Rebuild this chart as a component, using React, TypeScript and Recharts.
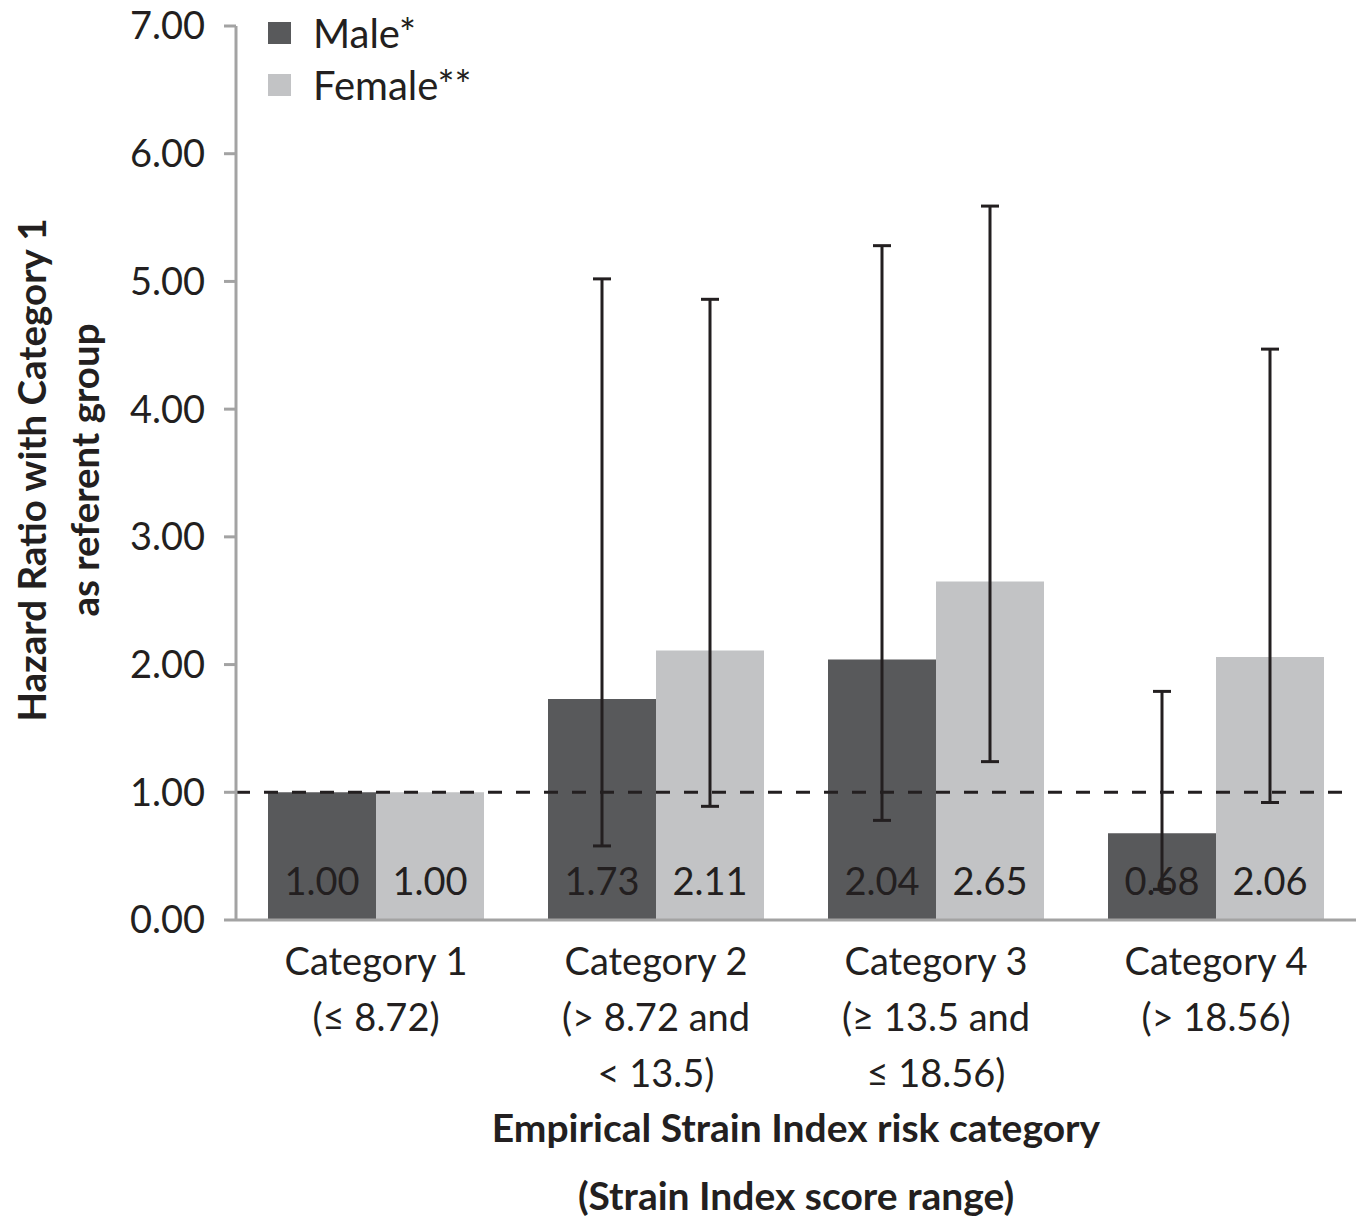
import { BarChart, Bar, XAxis, YAxis, ReferenceLine, ErrorBar, LabelList } from "recharts"

const categories = ["Category 1", "Category 2", "Category 3", "Category 4"]
const scoreRanges = [["(≤ 8.72)"], ["(> 8.72 and", "< 13.5)"], ["(≥ 13.5 and", "≤ 18.56)"], ["(> 18.56)"]]

const maleHR = [1.0, 1.73, 2.04, 0.68]
const maleLow = [null, 0.58, 0.78, 0.24]
const maleHigh = [null, 5.02, 5.28, 1.79]

const femaleHR = [1.0, 2.11, 2.65, 2.06]
const femaleLow = [null, 0.89, 1.24, 0.92]
const femaleHigh = [null, 4.86, 5.59, 4.47]

const yTicks = [0, 1, 2, 3, 4, 5, 6, 7]

const MALE = "#58595b"
const FEMALE = "#c2c3c5"
const INK = "#231f20"
const AXIS = "#a3a3a3"
const FONT = "Lato, sans-serif"

const errOf = (v: number, lo: number | null, hi: number | null) =>
  lo == null || hi == null ? null : [+(v - lo).toFixed(2), +(hi - v).toFixed(2)]

const data = categories.map((name, i) => ({
  name,
  male: maleHR[i],
  female: femaleHR[i],
  maleErr: errOf(maleHR[i], maleLow[i], maleHigh[i]),
  femaleErr: errOf(femaleHR[i], femaleLow[i], femaleHigh[i]),
}))

function CategoryTick(props: any) {
  const { x, y, payload } = props
  const i = categories.indexOf(payload.value)
  const lines = [payload.value, ...scoreRanges[i]]
  return (
    <g>
      {lines.map((t, k) => (
        <text key={k} x={x} y={y + 53 + k * 56} textAnchor="middle" fill={INK} fontSize={38} fontFamily={FONT}>
          {t}
        </text>
      ))}
    </g>
  )
}

function ValueLabel(props: any) {
  const vb = props.viewBox ?? props
  const x = typeof props.x === "number" ? props.x : vb.x
  const y = typeof props.y === "number" ? props.y : vb.y
  const w = typeof props.width === "number" ? props.width : vb.width
  const h = typeof props.height === "number" ? props.height : vb.height
  return (
    <text x={x + w / 2} y={y + h - 25} textAnchor="middle" fill={INK} fontSize={38} fontFamily={FONT}>
      {Number(props.value).toFixed(2)}
    </text>
  )
}

function YTitle() {
  return (
    <g fontFamily={FONT} fontWeight="bold" fontSize={38.5} fill={INK}>
      <text x={46} y={470} textAnchor="middle" transform="rotate(-90 46 470)">
        Hazard Ratio with Category 1
      </text>
      <text x={99} y={470} textAnchor="middle" transform="rotate(-90 99 470)">
        as referent group
      </text>
    </g>
  )
}

function XTitle(props: any) {
  const { x, width } = props.viewBox
  const cx = x + width / 2
  return (
    <g fontFamily={FONT} fontWeight="bold" fontSize={39} fill={INK}>
      <text x={cx} y={1142} textAnchor="middle">
        Empirical Strain Index risk category
      </text>
      <text x={cx} y={1210} textAnchor="middle">
        (Strain Index score range)
      </text>
    </g>
  )
}

const legendItems = [
  { label: "Male*", color: MALE },
  { label: "Female**", color: FEMALE },
]

function LegendBox() {
  return (
    <div style={{ position: "absolute", left: 268, top: 7, fontFamily: FONT, fontSize: 40, color: INK, lineHeight: 1 }}>
      {legendItems.map((it) => (
        <div key={it.label} style={{ display: "flex", alignItems: "center", height: 52 }}>
          <span style={{ width: 23, height: 22, background: it.color, marginRight: 22, display: "inline-block" }} />
          <span>{it.label}</span>
        </div>
      ))}
    </div>
  )
}

export default function App() {
  return (
    <div style={{ position: "absolute", left: 0, top: 0, width: 1360, height: 1220, background: "#fff" }}>
      <BarChart
        width={1360}
        height={1220}
        data={data}
        margin={{ top: 26, right: 4, left: 0, bottom: 0 }}
        barGap={0}
        barCategoryGap={32}
        style={{ fontFamily: FONT }}
      >
        <XAxis
          dataKey="name"
          height={300}
          tickLine={false}
          tickSize={0}
          axisLine={{ stroke: AXIS, strokeWidth: 3 }}
          tick={<CategoryTick />}
          interval={0}
          label={<XTitle />}
        />
        <YAxis
          width={236}
          domain={[0, 7]}
          ticks={yTicks}
          interval={0}
          tickSize={12}
          tickMargin={19}
          tickFormatter={(v: number) => v.toFixed(2)}
          tick={{ fill: INK, fontSize: 38, fontFamily: FONT }}
          tickLine={{ stroke: AXIS, strokeWidth: 3 }}
          axisLine={{ stroke: AXIS, strokeWidth: 3 }}
          label={<YTitle />}
        />
        <Bar dataKey="male" name="Male*" fill={MALE} isAnimationActive={false}>
          <LabelList dataKey="male" content={<ValueLabel />} />
          <ErrorBar dataKey="maleErr" width={9} stroke={INK} strokeWidth={3} direction="y" />
        </Bar>
        <Bar dataKey="female" name="Female**" fill={FEMALE} isAnimationActive={false}>
          <LabelList dataKey="female" content={<ValueLabel />} />
          <ErrorBar dataKey="femaleErr" width={9} stroke={INK} strokeWidth={3} direction="y" />
        </Bar>
        <ReferenceLine y={1} stroke={INK} strokeWidth={3} strokeDasharray="14 14" />
      </BarChart>
      <LegendBox />
    </div>
  )
}
